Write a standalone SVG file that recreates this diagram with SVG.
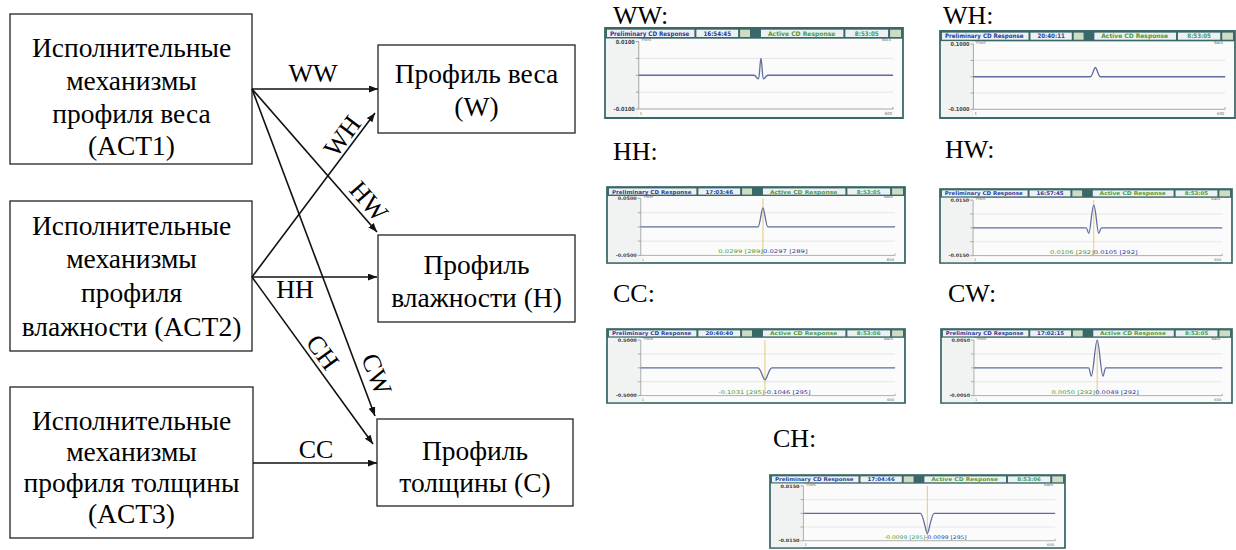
<svg xmlns="http://www.w3.org/2000/svg" xmlns:xlink="http://www.w3.org/1999/xlink" width="1236" height="550" viewBox="0 0 1236 550">
<style>
.t{font-family:"Liberation Serif","Times New Roman",serif;font-size:26px;fill:#000}
.bt{font-size:27.5px}
.box{fill:#fff;stroke:#222;stroke-width:1.3}
.cl{stroke:#111;stroke-width:1.6;fill:none;marker-end:url(#ah)}
.sf{fill:#fbfbfb;stroke:#3a6868;stroke-width:1.8}
.bar{fill:#3a6868}
.fld{fill:#eef1f3}
.ic{fill:#cfdcc4}
.lc{fill:#f1f2f2}
.tb{font-family:"DejaVu Sans",sans-serif;font-size:5.6px;font-weight:bold}
.bl{fill:#2b3a9c}
.gr{fill:#4c9a3c}
.grid{stroke:#d8d8d8;stroke-width:0.6}
.ax{stroke:#8a8a8a;stroke-width:0.7}
.cv{fill:none;stroke:#5d6d9d;stroke-width:1.3}
.or{stroke:#e2c068;stroke-width:0.9}
.yl{font-family:"DejaVu Sans",sans-serif;font-size:5px;font-weight:bold;fill:#444}
.sm{font-family:"DejaVu Sans",sans-serif;font-size:3.8px;fill:#666}
.vt{font-family:"DejaVu Sans",sans-serif;font-size:5.4px}
</style>
<defs>
<marker id="ah" markerUnits="userSpaceOnUse" markerWidth="10" markerHeight="8" refX="9" refY="3.5" orient="auto">
<path d="M0,0 L9,3.5 L0,7 z" fill="#111"/>
</marker>
<g id="chrome">
<rect class="sf" x="0" y="0" width="300" height="80"/>
<rect class="bar" x="0" y="0" width="300" height="9.5"/>
<rect class="fld" x="2" y="1.5" width="88" height="6.5"/>
<rect class="fld" x="92" y="1.5" width="42" height="6.5"/>
<rect class="ic" x="136" y="1.5" width="10" height="6.5"/>
<rect class="fld" x="157" y="1.5" width="83" height="6.5"/>
<rect class="fld" x="242" y="1.5" width="43" height="6.5"/>
<rect class="ic" x="287" y="1.5" width="11" height="6.5"/>
<text class="tb bl" x="5" y="6.9" textLength="80" lengthAdjust="spacingAndGlyphs">Preliminary CD Response</text>
<text class="tb gr" x="164" y="6.9" textLength="68" lengthAdjust="spacingAndGlyphs">Active CD Response</text>
<rect class="lc" x="1" y="9.5" width="33" height="69.6"/>
<line class="grid" x1="34" y1="27" x2="290" y2="27"/>
<line class="grid" x1="34" y1="57" x2="290" y2="57"/>
<line class="ax" x1="34" y1="12" x2="34" y2="72"/>
<line class="ax" x1="34" y1="72" x2="290" y2="72"/>
<line class="ax" x1="290" y1="70" x2="290" y2="72"/>
<path class="ax" d="M31,12H34M31,27H34M31,42H34M31,57H34M31,72H34"/>
<text class="sm" x="37" y="11.8">Front</text>
<text class="sm" x="288" y="11.8" text-anchor="end">Back</text>
<text class="sm" x="35" y="77.5">1</text>
<text class="sm" x="289" y="77.5" text-anchor="end">600</text>
</g>
</defs>
<rect width="1236" height="550" fill="#fff"/>

<g id="act1">
<rect class="box" x="10" y="14" width="242" height="150"/>
<text class="t bt" text-anchor="middle"><tspan x="131.5" y="57">Исполнительные</tspan><tspan x="131.5" y="90">механизмы</tspan><tspan x="131.5" y="123">профиля веса</tspan><tspan x="131.5" y="155">(ACT1)</tspan></text>
</g>
<g id="act2">
<rect class="box" x="10" y="201" width="242" height="150"/>
<text class="t bt" text-anchor="middle"><tspan x="131.5" y="235">Исполнительные</tspan><tspan x="131.5" y="268">механизмы</tspan><tspan x="131.5" y="302">профиля</tspan><tspan x="131.5" y="336">влажности (ACT2)</tspan></text>
</g>
<g id="act3">
<rect class="box" x="10" y="387" width="243" height="151"/>
<text class="t bt" text-anchor="middle"><tspan x="131.5" y="430">Исполнительные</tspan><tspan x="131.5" y="461">механизмы</tspan><tspan x="131.5" y="492">профиля толщины</tspan><tspan x="131.5" y="523">(ACT3)</tspan></text>
</g>
<g id="profW">
<rect class="box" x="378" y="45" width="197" height="88"/>
<text class="t bt" text-anchor="middle"><tspan x="476.5" y="83">Профиль веса</tspan><tspan x="476.5" y="116">(W)</tspan></text>
</g>
<g id="profH">
<rect class="box" x="378" y="235" width="197" height="87"/>
<text class="t bt" text-anchor="middle"><tspan x="476.5" y="274">Профиль</tspan><tspan x="476.5" y="307">влажности (H)</tspan></text>
</g>
<g id="profC">
<rect class="box" x="377" y="419" width="196" height="87"/>
<text class="t bt" text-anchor="middle"><tspan x="475" y="460">Профиль</tspan><tspan x="475" y="492">толщины (C)</tspan></text>
</g>

<g id="connectors">
<line class="cl" x1="252" y1="89" x2="378" y2="89"/>
<line class="cl" x1="252" y1="277" x2="375" y2="113"/>
<line class="cl" x1="252" y1="89" x2="377" y2="232"/>
<line class="cl" x1="252" y1="277" x2="377" y2="277"/>
<line class="cl" x1="252" y1="89" x2="375" y2="416"/>
<line class="cl" x1="252" y1="277" x2="373" y2="444"/>
<line class="cl" x1="253" y1="463" x2="377" y2="463"/>
<text class="t" x="313" y="82" text-anchor="middle">WW</text>
<text class="t" x="295" y="298" text-anchor="middle">HH</text>
<text class="t" x="316" y="458" text-anchor="middle">CC</text>
<text class="t" text-anchor="middle" transform="translate(342,136) rotate(-53)" x="0" y="9">WH</text>
<text class="t" text-anchor="middle" transform="translate(369,201) rotate(49)" x="0" y="9">HW</text>
<text class="t" text-anchor="middle" transform="translate(323,352) rotate(54)" x="0" y="9">CH</text>
<text class="t" text-anchor="middle" transform="translate(377,374) rotate(69)" x="0" y="9">CW</text>
</g>

<g id="shotWW">
<text class="t" x="613" y="23.5">WW:</text>
<g transform="translate(605,28) scale(0.9933,1.125)">
<use xlink:href="#chrome"/>
<text class="tb bl" x="113" y="6.9" text-anchor="middle">16:54:45</text>
<text class="tb gr" x="263.5" y="6.9" text-anchor="middle">8:53:05</text>
<text class="yl" x="30" y="13.8" text-anchor="end">0.0100</text>
<text class="yl" x="30" y="73.8" text-anchor="end">-0.0100</text>
<path class="cv" d="M34,42 H150 C152,42 153,45.5 154.5,45 C155.8,44.5 156,27 157,27 C158,27 158.2,44.5 159.5,45 C161,45.5 162,42 164,42 H290"/>
</g>
</g>

<g id="shotWH">
<text class="t" x="943" y="23.5">WH:</text>
<g transform="translate(940,31) scale(0.9833,1.0875)">
<use xlink:href="#chrome"/>
<text class="tb bl" x="113" y="6.9" text-anchor="middle">20:40:11</text>
<text class="tb gr" x="263.5" y="6.9" text-anchor="middle">8:53:05</text>
<text class="yl" x="30" y="13.8" text-anchor="end">0.1000</text>
<text class="yl" x="30" y="73.8" text-anchor="end">-0.1000</text>
<path class="cv" d="M34,42 H153 C155,42 156.5,33.5 158,33.5 C159.5,33.5 161,42 163,42 H290"/>
</g>
</g>

<g id="shotHH">
<text class="t" x="613" y="160">HH:</text>
<g transform="translate(607,187) scale(0.9933,0.95)">
<use xlink:href="#chrome"/>
<text class="tb bl" x="113" y="6.9" text-anchor="middle">17:03:46</text>
<text class="tb gr" x="263.5" y="6.9" text-anchor="middle">8:53:05</text>
<text class="yl" x="30" y="13.8" text-anchor="end">0.0500</text>
<text class="yl" x="30" y="73.8" text-anchor="end">-0.0500</text>
<line class="or" x1="157" y1="12" x2="157" y2="72"/>
<path class="cv" d="M34,42 H152 C154,42 155.5,22 157,22 C158.5,22 160,42 162,42 H290"/>
<text class="vt" x="112" y="70" textLength="90" lengthAdjust="spacingAndGlyphs"><tspan class="gr">0.0299 [289]</tspan><tspan class="bl">0.0297 [289]</tspan></text>
</g>
</g>

<g id="shotHW">
<text class="t" x="945" y="158">HW:</text>
<g transform="translate(940,189) scale(0.9733,0.925)">
<use xlink:href="#chrome"/>
<text class="tb bl" x="113" y="6.9" text-anchor="middle">16:57:45</text>
<text class="tb gr" x="263.5" y="6.9" text-anchor="middle">8:53:05</text>
<text class="yl" x="30" y="13.8" text-anchor="end">0.0150</text>
<text class="yl" x="30" y="73.8" text-anchor="end">-0.0150</text>
<line class="or" x1="158" y1="12" x2="158" y2="72"/>
<path class="cv" d="M34,42 H150 C151.5,42 152,48 153,48 C154.5,48 156,17.5 158,17.5 C160,17.5 161.5,48 163,48 C164,48 164.5,42 166,42 H290"/>
<text class="vt" x="113" y="70" textLength="90" lengthAdjust="spacingAndGlyphs"><tspan class="gr">0.0106 [292]</tspan><tspan class="bl">0.0105 [292]</tspan></text>
</g>
</g>

<g id="shotCC">
<text class="t" x="613" y="302">CC:</text>
<g transform="translate(607,329) scale(0.9933,0.925)">
<use xlink:href="#chrome"/>
<text class="tb bl" x="113" y="6.9" text-anchor="middle">20:40:40</text>
<text class="tb gr" x="263.5" y="6.9" text-anchor="middle">8:53:06</text>
<text class="yl" x="30" y="13.8" text-anchor="end">0.5000</text>
<text class="yl" x="30" y="73.8" text-anchor="end">-0.5000</text>
<line class="or" x1="159" y1="12" x2="159" y2="72"/>
<path class="cv" d="M34,42 H152 C155,42 157,55 159,55 C161,55 163,42 166,42 H290"/>
<text class="vt" x="112" y="70" textLength="93" lengthAdjust="spacingAndGlyphs"><tspan class="gr">-0.1031 [295]</tspan><tspan class="bl">-0.1046 [295]</tspan></text>
</g>
</g>

<g id="shotCW">
<text class="t" x="948" y="302">CW:</text>
<g transform="translate(941,329) scale(0.97,0.925)">
<use xlink:href="#chrome"/>
<text class="tb bl" x="113" y="6.9" text-anchor="middle">17:02:15</text>
<text class="tb gr" x="263.5" y="6.9" text-anchor="middle">8:53:05</text>
<text class="yl" x="30" y="13.8" text-anchor="end">0.0050</text>
<text class="yl" x="30" y="73.8" text-anchor="end">-0.0050</text>
<line class="or" x1="161" y1="12" x2="161" y2="72"/>
<path class="cv" d="M34,42 H152 C153.5,42 154,51 155,51 C157,51 159,12 161,12 C163,12 165,51 167,51 C168,51 168.5,42 170,42 H290"/>
<text class="vt" x="114" y="70" textLength="90" lengthAdjust="spacingAndGlyphs"><tspan class="gr">0.0050 [292]</tspan><tspan class="bl">0.0049 [292]</tspan></text>
</g>
</g>

<g id="shotCH">
<text class="t" x="773" y="447">CH:</text>
<g transform="translate(770,475) scale(0.9833,0.9125)">
<use xlink:href="#chrome"/>
<text class="tb bl" x="113" y="6.9" text-anchor="middle">17:04:46</text>
<text class="tb gr" x="263.5" y="6.9" text-anchor="middle">8:53:06</text>
<text class="yl" x="30" y="13.8" text-anchor="end">0.0150</text>
<text class="yl" x="30" y="73.8" text-anchor="end">-0.0150</text>
<line class="or" x1="160" y1="12" x2="160" y2="72"/>
<path class="cv" d="M34,42 H153 C156,42 158.5,64.5 160,64.5 C161.5,64.5 164,42 167,42 H290"/>
<text class="vt" x="116" y="70" textLength="84" lengthAdjust="spacingAndGlyphs"><tspan class="gr">-0.0099 [295]</tspan><tspan class="bl">-0.0099 [295]</tspan></text>
</g>
</g>
</svg>
